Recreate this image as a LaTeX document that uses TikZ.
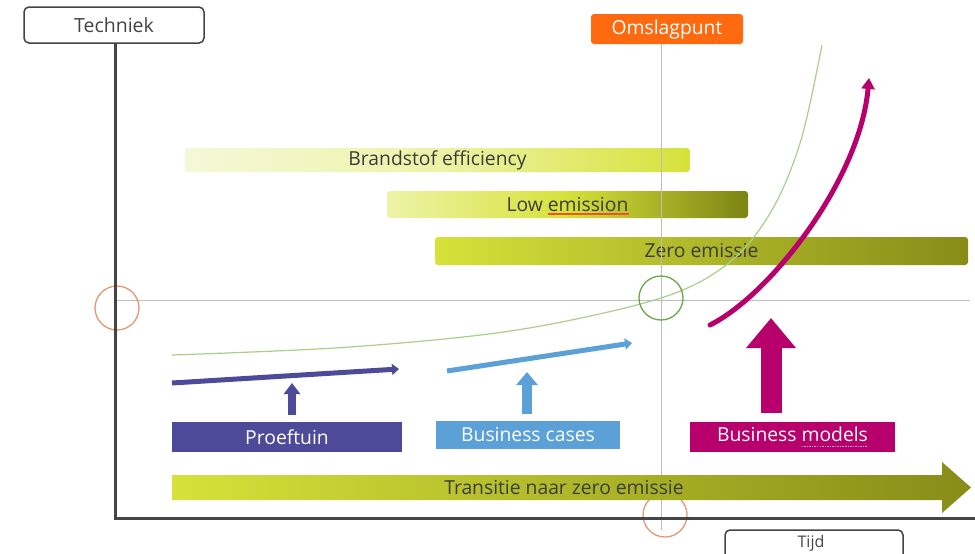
\documentclass[tikz,border=0pt]{standalone}
\usepackage{fontspec}
\setmainfont{Open Sans}
\usetikzlibrary{arrows.meta}
\definecolor{axisgray}{HTML}{444444}
\definecolor{thingray}{HTML}{BDBDBD}
\definecolor{textgray}{HTML}{3C3C3C}
\definecolor{omsorange}{HTML}{FF6A10}
\definecolor{limeL}{HTML}{D6E23A}
\definecolor{limeLL}{HTML}{EEF3A8}
\definecolor{limeW}{HTML}{F4F8D8}
\definecolor{olive}{HTML}{878C18}
\definecolor{oliveD}{HTML}{7C8414}
\definecolor{mag}{HTML}{B8006C}
\definecolor{purp}{HTML}{4D4A99}
\definecolor{lblue}{HTML}{5CA0D8}
\definecolor{curvegreen}{HTML}{A9CF8A}
\definecolor{circgreen}{HTML}{6FA64A}
\definecolor{circorange}{HTML}{E39A74}
\definecolor{ulred}{HTML}{F0502A}
\definecolor{ulpink}{HTML}{F0A0C8}
\newcommand{\pinkul}[1]{\leavevmode\setbox0\hbox{#1}\rlap{\textcolor{ulpink}{\hbox to \wd0{\xleaders\hbox{\rule[-0.25em]{1.5pt}{0.9pt}\hskip1pt}\hfil}}}\box0}
\tikzset{
  axisbox/.style={draw=axisgray, line width=1.5pt, rounded corners=5pt, fill=white, text=axisgray, font=\fontsize{19.5}{22}\selectfont},
  bar/.style={rounded corners=3pt, text=textgray, font=\fontsize{19.3}{22}\selectfont, inner sep=0pt},
  lbox/.style={text=white, font=\fontsize{19.3}{22}\selectfont, inner sep=0pt},
  thinline/.style={draw=thingray, line width=1pt},
  ring/.style={line width=1.3pt, fill=none},
}
\begin{document}
\begin{tikzpicture}[x=1pt,y=-1pt]
\useasboundingbox (0,0) rectangle (975,554);
\fill[white] (0,0) rectangle (975,554);
\begin{scope}
\clip (0,0) rectangle (975,554);
% thin guide lines
\coordinate (hl0) at (115,300);
\coordinate (hl1) at (970,300);
\coordinate (vl1) at (661,530);
\draw[thinline] (hl0) -- (hl1);
% bars
\node[bar, minimum width=505pt, minimum height=24pt, left color=limeW, right color=limeL, middle color=limeLL] (bfe) at (437.5,160) {Brandstof efficiency};
\node[bar, minimum width=361pt, minimum height=27pt, left color=limeLL, right color=oliveD, middle color=limeL] (low) at (567.5,204.5) {Low emission};
\draw[ulred, line width=1.3pt] ([xshift=-20pt,yshift=-9.5pt]low.center) -- ([xshift=61pt,yshift=-9.5pt]low.center);
\node[bar, minimum width=533pt, minimum height=28pt, left color=limeL, right color=olive] (zero) at (701.5,251) {Zero emissie};
% omslagpunt
\node[rounded corners=3pt, fill=omsorange, text=white, font=\fontsize{19.3}{22}\selectfont, minimum width=152pt, minimum height=30pt, inner sep=0pt] (oms) at (667,29) {Omslagpunt};
\draw[thinline] (oms.south -| vl1) -- (vl1);
% green curve
\draw[curvegreen, line width=1.2pt] plot[smooth, tension=0.55] coordinates {(172,355) (350,347) (517,330) (661,298) (730,262) (772,210) (801,140) (822,45)};
% circles
\node[draw=circgreen, circle, ring, minimum size=44pt, inner sep=0pt] (cg) at (661,298) {};
\node[draw=circorange, circle, ring, minimum size=44pt, inner sep=0pt] (co1) at (117,308) {};
\node[draw=circorange, circle, ring, minimum size=44pt, inner sep=0pt] (co2) at (665,515) {};
% magenta curve
\coordinate (mc0) at (710,325);
\coordinate (mc1) at (869,78);
\draw[mag, line width=5pt, line cap=round, -{Triangle[width=13pt,length=11pt]}] (mc0) .. controls (770,295) and (860,180) .. (mc1);
% label boxes
\node[lbox, fill=purp, minimum width=230pt, minimum height=30pt] (proef) at (287,437) {Proeftuin};
\node[lbox, fill=lblue, minimum width=184pt, minimum height=28pt] (bcase) at (528,435) {Business cases};
\node[lbox, fill=mag, minimum width=205pt, minimum height=30pt] (bmod) at (792.5,437) {Business \pinkul{models}};
% up arrows
\coordinate (pa) at (292,383);
\coordinate (ba) at (527,372);
\coordinate (ma) at (771,318);
\draw[purp, line width=8pt, -{Triangle[width=16pt,length=11pt]}] ([xshift=5pt,yshift=7pt]proef.north) -- (pa);
\draw[lblue, line width=10pt, -{Triangle[width=21pt,length=13pt]}] ([xshift=-1pt,yshift=7pt]bcase.north) -- (ba);
\draw[mag, line width=21pt, -{Triangle[width=48pt,length=30pt]}] ([xshift=-21.5pt,yshift=9pt]bmod.north) -- (ma);
% sloped arrows
\coordinate (p0) at (172,383);
\coordinate (p1) at (399,369);
\coordinate (b0) at (447,371);
\coordinate (b1) at (632,343);
\draw[purp, line width=5pt, -{Triangle[width=11pt,length=7pt]}] (p0) -- (p1);
\draw[lblue, line width=5pt, -{Triangle[width=11pt,length=7pt]}] (b0) -- (b1);
% transitie arrow
\shade[left color=limeL, right color=olive] (172,475) -- (942,475) -- (942,462) -- (971,487.5) -- (942,513) -- (942,500) -- (172,500) -- cycle;
\node[text=textgray, font=\fontsize{19.3}{22}\selectfont, inner sep=0pt] (trans) at (564,488) {Transitie naar zero emissie};
% axes
\node[axisbox, minimum width=180pt, minimum height=36pt, inner sep=0pt] (tech) at (114,25) {Techniek};
\coordinate (origin) at (115,518);
\coordinate (xend) at (975,518);
\draw[axisgray, line width=3pt] (tech.south -| origin) -- (origin) -- (xend);
\node[draw=axisgray, line width=1.5pt, rounded corners=5pt, fill=white, minimum width=178pt, minimum height=36pt, inner sep=0pt] (tijd) at (814,548) {};
\node[text=axisgray, font=\fontsize{16}{18}\selectfont, inner sep=0pt] (tijdt) at (811,543) {Tijd};
\end{scope}
\end{tikzpicture}
\end{document}
